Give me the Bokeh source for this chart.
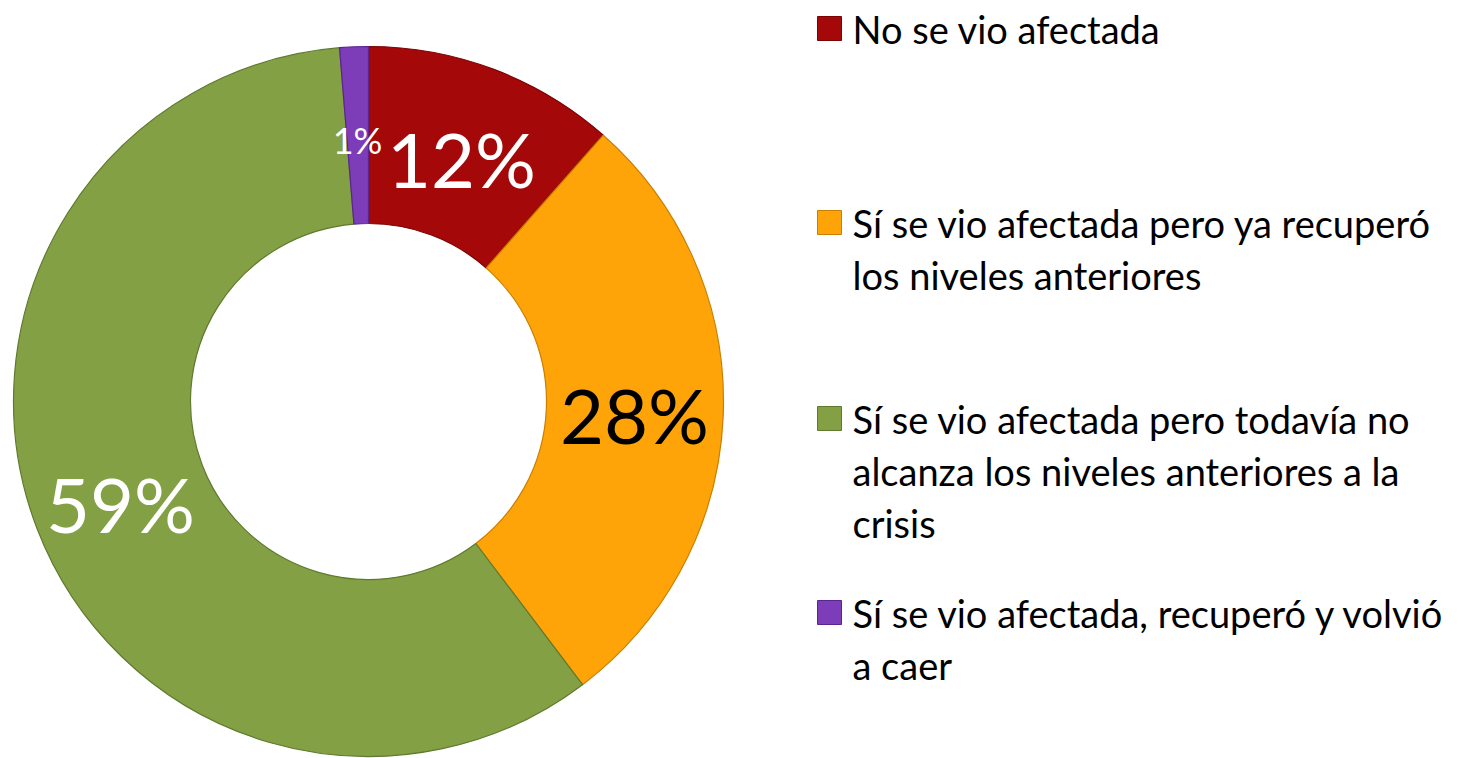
import math
from bokeh.plotting import figure
from bokeh.models import ColumnDataSource, Range1d
from bokeh.core.properties import value
from bokeh.embed import file_html
from bokeh.resources import INLINE

# ---- data ----
categories = [
    "No se vio afectada",
    "Sí se vio afectada pero ya recuperó\nlos niveles anteriores",
    "Sí se vio afectada pero todavía no\nalcanza los niveles anteriores a la\ncrisis",
    "Sí se vio afectada, recuperó y volvió\na caer",
]
shares = [11.5, 28.2, 59.0, 1.3]
labels = ["12%", "28%", "59%", "1%"]
colors = ["#A50808", "#FFA408", "#83A045", "#7D3CB8"]
edge_colors = ["#7A0404", "#C98000", "#5F7A2E", "#5A2590"]
label_colors = ["white", "black", "white", "white"]
label_sizes = ["76px", "76px", "76px", "36px"]

W, H = 1472, 758
FONT = "Lato"

p = figure(width=W, height=H, output_backend="svg", toolbar_location=None,
           x_range=Range1d(0, W), y_range=Range1d(758 - H, 758),
           min_border=0)
p.axis.visible = False
p.grid.visible = False
p.outline_line_color = None
p.background_fill_color = "white"

def X(sx):
    return sx
def Y(sy):
    return 758 - sy

cx, cy = X(368), Y(401)
r_out, r_in = 355, 178

total = sum(shares)
starts, ends = [], []
acc = 0.0
for s in shares:
    a0 = acc / total * 2 * math.pi
    acc += s
    a1 = acc / total * 2 * math.pi
    starts.append(math.pi / 2 - a0)
    ends.append(math.pi / 2 - a1)

src = ColumnDataSource(dict(start=starts, end=ends, color=colors, edge=edge_colors))
p.annular_wedge(x=cx, y=cy, inner_radius=r_in, outer_radius=r_out,
                start_angle="start", end_angle="end", direction="clock",
                fill_color="color", line_color="edge", line_width=1.2, source=src)

label_pos = [(461, 158), (634, 414), (120, 503), (357, 139)]
for i in range(len(labels)):
    p.text(x=[X(label_pos[i][0])], y=[Y(label_pos[i][1])], text=[labels[i]],
           text_color=label_colors[i], text_font=value(FONT),
           text_font_size=label_sizes[i], text_align="center", text_baseline="middle")

# legend
legend_tops = [Y(28), Y(222), Y(418), Y(612)]
line_gap = 52
sq_x = X(829)
txt_x = X(852)
for i, cat in enumerate(categories):
    p.rect(x=[sq_x], y=[legend_tops[i]], width=24, height=24,
           width_units="screen", height_units="screen",
           fill_color=colors[i], line_color=edge_colors[i], line_width=1)
    for j, line in enumerate(cat.split("\n")):
        p.text(x=[txt_x], y=[legend_tops[i] - j * line_gap], text=[line],
               text_color="black", text_font=value(FONT), text_font_size="38px",
               text_align="left", text_baseline="middle")

open("out.html", "w").write(file_html(p, INLINE))
